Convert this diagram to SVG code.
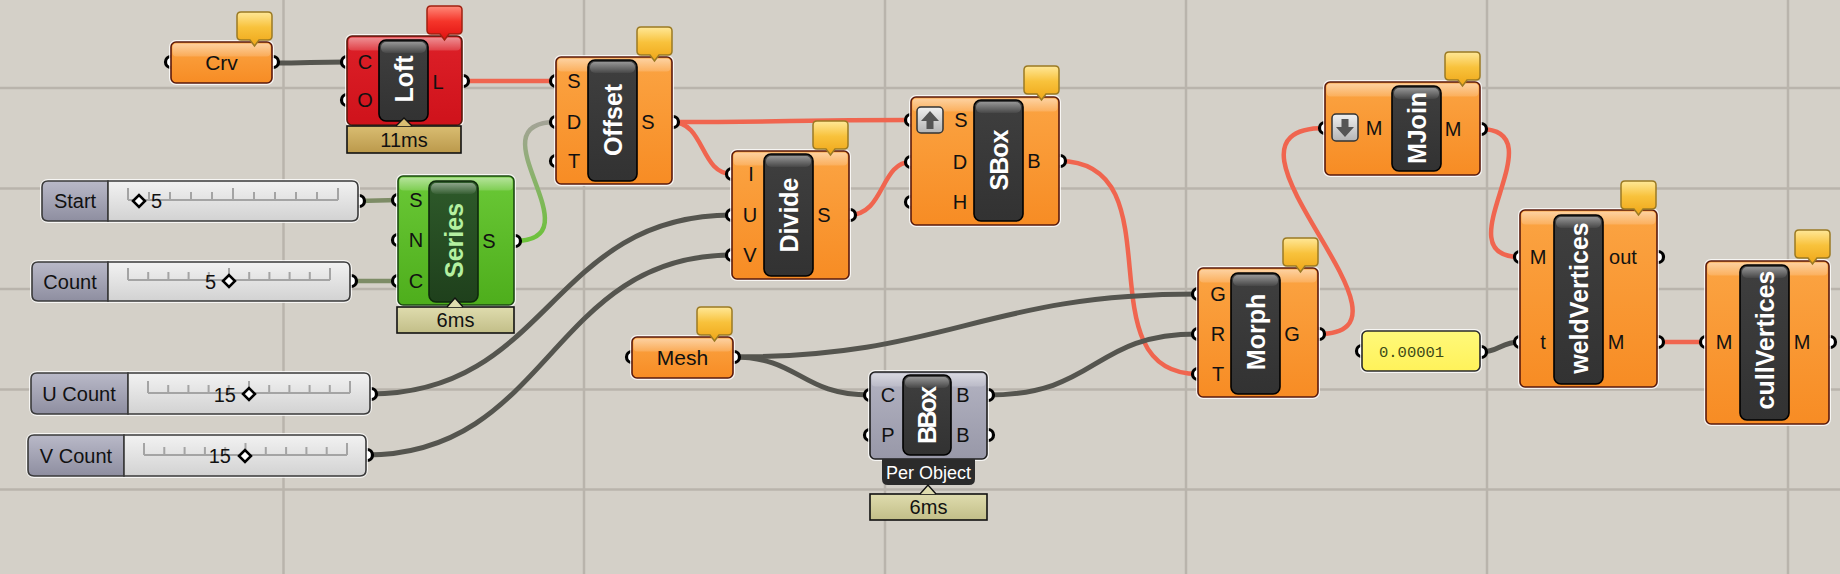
<svg xmlns="http://www.w3.org/2000/svg" width="1840" height="574" viewBox="0 0 1840 574">
<defs>
<linearGradient id="gOr" x1="0" y1="0" x2="0" y2="1"><stop offset="0" stop-color="#fba443"/><stop offset="1" stop-color="#f78c24"/></linearGradient>
<linearGradient id="gRd" x1="0" y1="0" x2="0" y2="1"><stop offset="0" stop-color="#dd2028"/><stop offset="1" stop-color="#cf121b"/></linearGradient>
<linearGradient id="gGn" x1="0" y1="0" x2="0" y2="1"><stop offset="0" stop-color="#6ac836"/><stop offset="1" stop-color="#4eae1c"/></linearGradient>
<linearGradient id="gGy" x1="0" y1="0" x2="0" y2="1"><stop offset="0" stop-color="#b3b3c2"/><stop offset="1" stop-color="#9898a8"/></linearGradient>
<linearGradient id="gBand" x1="0" y1="0" x2="0" y2="1"><stop offset="0" stop-color="#fff" stop-opacity=".5"/><stop offset="1" stop-color="#fff" stop-opacity=".15"/></linearGradient>
<linearGradient id="gPill" x1="0" y1="0" x2="0" y2="1"><stop offset="0" stop-color="#3f3f3f"/><stop offset="1" stop-color="#323232"/></linearGradient>
<linearGradient id="gPillG" x1="0" y1="0" x2="0" y2="1"><stop offset="0" stop-color="#2e5a2a"/><stop offset="1" stop-color="#1f401c"/></linearGradient>
<linearGradient id="gPillHi" x1="0" y1="0" x2="0" y2="1"><stop offset="0" stop-color="#fff" stop-opacity=".45"/><stop offset="1" stop-color="#fff" stop-opacity=".05"/></linearGradient>
<linearGradient id="gBal" x1="0" y1="0" x2="0" y2="1"><stop offset="0" stop-color="#ffe898"/><stop offset=".45" stop-color="#f8c23c"/><stop offset="1" stop-color="#efa618"/></linearGradient>
<linearGradient id="gBalR" x1="0" y1="0" x2="0" y2="1"><stop offset="0" stop-color="#ff8a7a"/><stop offset=".45" stop-color="#f5352a"/><stop offset="1" stop-color="#e01010"/></linearGradient>
<linearGradient id="gSlL" x1="0" y1="0" x2="0" y2="1"><stop offset="0" stop-color="#b9b9c8"/><stop offset="1" stop-color="#8e8ea0"/></linearGradient>
<linearGradient id="gSlB" x1="0" y1="0" x2="0" y2="1"><stop offset="0" stop-color="#f2f2f2"/><stop offset="1" stop-color="#d2d2d2"/></linearGradient>
<linearGradient id="gTmG" x1="0" y1="0" x2="0" y2="1"><stop offset="0" stop-color="#d9bd72"/><stop offset="1" stop-color="#bb994b"/></linearGradient>
<linearGradient id="gTmK" x1="0" y1="0" x2="0" y2="1"><stop offset="0" stop-color="#dfdcae"/><stop offset="1" stop-color="#c2be88"/></linearGradient>
<linearGradient id="gIcon" x1="0" y1="0" x2="0" y2="1"><stop offset="0" stop-color="#f0f0f0"/><stop offset="1" stop-color="#b4b4b4"/></linearGradient>
<linearGradient id="gPanel" x1="0" y1="0" x2="0" y2="1"><stop offset="0" stop-color="#fff97a"/><stop offset="1" stop-color="#fff25a"/></linearGradient>
<linearGradient id="gWGreen" gradientUnits="userSpaceOnUse" x1="0" y1="241" x2="0" y2="122"><stop offset="0" stop-color="#6cc23a"/><stop offset="1" stop-color="#a3a396"/></linearGradient>
<path id="bal" d="M4,0 H31 Q35,0 35,4 V24 Q35,28 31,28 H22 L17.5,34 L13,28 H4 Q0,28 0,24 V4 Q0,0 4,0 Z"/>
<style>
.wr{fill:none;stroke:#f0654f;stroke-width:4.5;stroke-linecap:round}
.wg{fill:none;stroke:#55554f;stroke-width:5;stroke-linecap:round}
.wo{fill:none;stroke:#7d8c66;stroke-width:4.5}
.port{fill:#fff;stroke:#000;stroke-width:3.2}
.halo{fill:none;stroke:#fff;stroke-opacity:.8;stroke-width:4}
.edge{stroke:#5a1a0c;stroke-width:1.6}
.edgeK{stroke:#1f1f1f;stroke-width:1.6}
.band{fill:url(#gBand)}
.pill{fill:url(#gPill);stroke:#000;stroke-width:1.6}
.pillhi{fill:url(#gPillHi)}
.lbl{font-family:"Liberation Sans",Arial,sans-serif;font-size:20px;fill:#111;text-anchor:middle}
.pt{font-family:"Liberation Sans",Arial,sans-serif;font-weight:bold;font-size:25px;fill:#fff;text-anchor:middle}
.bal{fill:url(#gBal);stroke:#9b7a23;stroke-width:1.5}
.balr{fill:url(#gBalR);stroke:#a02010;stroke-width:1.5}
.grid{stroke:#b9b4ac;stroke-width:2.5}
.sl{fill:url(#gSlL);stroke:#3a3a3a;stroke-width:1.6}
.sb{fill:url(#gSlB);stroke:#3a3a3a;stroke-width:1.6}
.trk{fill:none;stroke:#a4a4a4;stroke-width:2}
.dia{fill:#fff;stroke:#000;stroke-width:2.5}
.tm{stroke:#111;stroke-width:1.6}
</style>
</defs>
<rect x="0" y="0" width="1840" height="574" fill="#d4d0c8"/>
<g id="grid">
<path class="grid" d="M283.5,0V574M584,0V574M885,0V574M1186,0V574M1487,0V574M1788,0V574M0,88H1840M0,188.5H1840M0,289H1840M0,389.5H1840M0,489.5H1840"/>
</g>
<g id="connectors">
<path class="wg" d="M272,63 C310,63 310,62 347,62"/>
<path class="wr" d="M462,81 L556,81"/>
<path fill="none" stroke="url(#gWGreen)" stroke-width="4.5" d="M514,241 C600,241 470,122 556,122"/>
<path class="wo" d="M358,201 L398,200"/>
<path class="wo" d="M350,281 L398,281"/>
<path class="wr" d="M672,122 C790,122 790,120 911,120"/>
<path class="wr" d="M672,122 C705,122 700,174 732,174"/>
<path class="wr" d="M849,215 C885,215 880,162 911,162"/>
<path class="wg" d="M370,394 C550,394 550,215 732,215"/>
<path class="wg" d="M366,455 C550,455 550,255 732,255"/>
<path class="wr" d="M1059,161 C1180,161 1080,374 1198,374"/>
<path class="wg" d="M733,357 C950,357 980,294 1198,294"/>
<path class="wg" d="M733,357 C800,357 800,395 870,395"/>
<path class="wg" d="M987,395 C1100,395 1090,334 1198,334"/>
<path class="wr" d="M1318,334 C1440,334 1190,128 1325,128"/>
<path class="wr" d="M1480,129 C1560,129 1440,257 1520,257"/>
<path class="wg" d="M1480,352 C1500,352 1500,342 1520,342"/>
<path class="wr" d="M1657,342 L1706,342"/>
</g>

<g id="slider-start">
<circle class="port" cx="359" cy="201" r="5.5"/>
<rect class="halo" x="42" y="181" width="316" height="40" rx="6"/>
<path class="sl" d="M48,181 H108 V221 H48 Q42,221 42,215 V187 Q42,181 48,181 Z"/>
<path class="sb" d="M108,181 H352 Q358,181 358,187 V215 Q358,221 352,221 H108 Z"/>
<text class="lbl" x="75" y="208">Start</text>
<path class="trk" d="M128,200H338M128,188V200M149,192V200M170,192V200M191,192V200M212,192V200M233,188V200M254,192V200M275,192V200M296,192V200M317,192V200M338,188V200"/>
<polygon class="dia" points="133,201 139,195 145,201 139,207"/>
<text class="lbl" x="151" y="208" style="text-anchor:start">5</text>
</g>
<g id="slider-count">
<circle class="port" cx="351" cy="281" r="5.5"/>
<rect class="halo" x="32" y="262" width="318" height="39" rx="6"/>
<path class="sl" d="M38,262 H108 V301 H38 Q32,301 32,295 V268 Q32,262 38,262 Z"/>
<path class="sb" d="M108,262 H344 Q350,262 350,268 V295 Q350,301 344,301 H108 Z"/>
<text class="lbl" x="70" y="289">Count</text>
<path class="trk" d="M128,280H330M128,268V280M148.2,272V280M168.4,272V280M188.6,272V280M208.8,272V280M229,268V280M249.2,272V280M269.4,272V280M289.6,272V280M309.8,272V280M330,268V280"/>
<text class="lbl" x="216" y="289" style="text-anchor:end">5</text>
<polygon class="dia" points="223,281 229,275 235,281 229,287"/>
</g>
<g id="slider-ucount">
<circle class="port" cx="371" cy="394" r="5.5"/>
<rect class="halo" x="31" y="373" width="339" height="41" rx="6"/>
<path class="sl" d="M37,373 H128 V414 H37 Q31,414 31,408 V379 Q31,373 37,373 Z"/>
<path class="sb" d="M128,373 H364 Q370,373 370,379 V408 Q370,414 364,414 H128 Z"/>
<text class="lbl" x="79" y="401">U Count</text>
<path class="trk" d="M148,393H350M148,381V393M168.2,385V393M188.4,385V393M208.6,385V393M228.8,385V393M249,381V393M269.2,385V393M289.4,385V393M309.6,385V393M329.8,385V393M350,381V393"/>
<text class="lbl" x="236" y="402" style="text-anchor:end">15</text>
<polygon class="dia" points="243,394 249,388 255,394 249,400"/>
</g>
<g id="slider-vcount">
<circle class="port" cx="367" cy="455" r="5.5"/>
<rect class="halo" x="28" y="435" width="338" height="41" rx="6"/>
<path class="sl" d="M34,435 H124 V476 H34 Q28,476 28,470 V441 Q28,435 34,435 Z"/>
<path class="sb" d="M124,435 H360 Q366,435 366,441 V470 Q366,476 360,476 H124 Z"/>
<text class="lbl" x="76" y="463">V Count</text>
<path class="trk" d="M144,455H347M144,443V455M164.3,447V455M184.6,447V455M204.9,447V455M225.2,447V455M245.5,443V455M265.8,447V455M286.1,447V455M306.4,447V455M326.7,447V455M347,443V455"/>
<text class="lbl" x="231" y="463" style="text-anchor:end">15</text>
<polygon class="dia" points="239,456 245,450 251,456 245,462"/>
</g>

<g id="node-crv">
<circle class="port" cx="171" cy="62" r="5.5"/><circle class="port" cx="273" cy="62" r="5.5"/>
<rect class="halo" x="171" y="42" width="101" height="41" rx="5"/>
<rect class="edge" fill="url(#gOr)" x="171" y="42" width="101" height="41" rx="5"/>
<rect class="band" x="172.5" y="43.5" width="98" height="13" rx="4"/>
<text class="lbl" x="221.5" y="70" style="font-size:21px">Crv</text>
<use href="#bal" class="bal" x="237" y="12"/>
</g>

<g id="node-loft">
<circle class="port" cx="347" cy="62" r="5.5"/><circle class="port" cx="347" cy="100" r="5.5"/><circle class="port" cx="463" cy="81" r="5.5"/>
<rect class="halo" x="347" y="36" width="115" height="89" rx="5"/>
<rect class="edge" fill="url(#gRd)" x="347" y="36" width="115" height="89" rx="5"/>
<rect class="band" x="348.5" y="37.5" width="112" height="13" rx="4"/>
<text class="lbl" x="365" y="69">C</text><text class="lbl" x="365" y="107">O</text><text class="lbl" x="438" y="89">L</text>
<rect class="pill" x="379" y="40" width="49" height="81" rx="7"/><rect class="pillhi" x="381" y="42" width="45" height="11" rx="5"/>
<text class="pt" transform="translate(403.5,79) rotate(-90)" dy="0.36em">Loft</text>
<rect class="tm" fill="url(#gTmG)" x="347" y="126" width="114" height="27"/>
<path d="M396,126 L404,118 L412,126" fill="#d9bd72" stroke="#111" stroke-width="1.4"/>
<text class="lbl" x="404" y="147">11ms</text>
<use href="#bal" class="balr" x="427" y="6"/>
</g>

<g id="node-series">
<circle class="port" cx="398" cy="200" r="5.5"/><circle class="port" cx="398" cy="240" r="5.5"/><circle class="port" cx="398" cy="281" r="5.5"/><circle class="port" cx="515" cy="241" r="5.5"/>
<rect class="halo" x="398" y="176" width="116" height="129" rx="5"/>
<rect stroke="#1d4a12" stroke-width="1.6" fill="url(#gGn)" x="398" y="176" width="116" height="129" rx="5"/>
<rect class="band" x="399.5" y="177.5" width="113" height="13" rx="4"/>
<text class="lbl" x="416" y="207">S</text><text class="lbl" x="416" y="247">N</text><text class="lbl" x="416" y="288">C</text><text class="lbl" x="489" y="248">S</text>
<rect fill="url(#gPillG)" stroke="#0e2a0c" stroke-width="1.6" x="429" y="181" width="49" height="121" rx="7"/><rect class="pillhi" x="431" y="183" width="45" height="11" rx="5"/>
<text class="pt" transform="translate(453.5,240.5) rotate(-90)" dy="0.36em" style="fill:#b4f0a0">Series</text>
<rect class="tm" fill="url(#gTmK)" x="397" y="307" width="117" height="26"/>
<path d="M447,307 L455,298 L463,307" fill="#dfdcae" stroke="#111" stroke-width="1.4"/>
<text class="lbl" x="455.5" y="327">6ms</text>
</g>

<g id="node-offset">
<circle class="port" cx="556" cy="81" r="5.5"/><circle class="port" cx="556" cy="122" r="5.5"/><circle class="port" cx="556" cy="161" r="5.5"/><circle class="port" cx="673" cy="122" r="5.5"/>
<rect class="halo" x="556" y="57" width="116" height="127" rx="5"/>
<rect class="edge" fill="url(#gOr)" x="556" y="57" width="116" height="127" rx="5"/>
<rect class="band" x="557.5" y="58.5" width="113" height="13" rx="4"/>
<text class="lbl" x="574" y="88">S</text><text class="lbl" x="574" y="129">D</text><text class="lbl" x="574" y="168">T</text><text class="lbl" x="648" y="129">S</text>
<rect class="pill" x="588" y="60" width="49" height="121" rx="7"/><rect class="pillhi" x="590" y="62" width="45" height="11" rx="5"/>
<text class="pt" transform="translate(612.5,120) rotate(-90)" dy="0.36em">Offset</text>
<use href="#bal" class="bal" x="637" y="27"/>
</g>

<g id="node-divide">
<circle class="port" cx="732" cy="174" r="5.5"/><circle class="port" cx="732" cy="215" r="5.5"/><circle class="port" cx="732" cy="255" r="5.5"/><circle class="port" cx="850" cy="215" r="5.5"/>
<rect class="halo" x="732" y="151" width="117" height="128" rx="5"/>
<rect class="edge" fill="url(#gOr)" x="732" y="151" width="117" height="128" rx="5"/>
<rect class="band" x="733.5" y="152.5" width="114" height="13" rx="4"/>
<text class="lbl" x="751" y="181">I</text><text class="lbl" x="750" y="222">U</text><text class="lbl" x="750" y="262">V</text><text class="lbl" x="824" y="222">S</text>
<rect class="pill" x="764" y="154" width="49" height="122" rx="7"/><rect class="pillhi" x="766" y="156" width="45" height="11" rx="5"/>
<text class="pt" transform="translate(788.5,215) rotate(-90)" dy="0.36em">Divide</text>
<use href="#bal" class="bal" x="813" y="121"/>
</g>

<g id="node-sbox">
<circle class="port" cx="911" cy="120" r="5.5"/><circle class="port" cx="911" cy="162" r="5.5"/><circle class="port" cx="911" cy="202" r="5.5"/><circle class="port" cx="1060" cy="161" r="5.5"/>
<rect class="halo" x="911" y="97" width="148" height="128" rx="5"/>
<rect class="edge" fill="url(#gOr)" x="911" y="97" width="148" height="128" rx="5"/>
<rect class="band" x="912.5" y="98.5" width="145" height="13" rx="4"/>
<rect fill="url(#gIcon)" stroke="#333" stroke-width="1.5" x="917" y="107" width="26" height="26" rx="4"/>
<path d="M930,111 L939,121 H933.5 V129 H926.5 V121 H921 Z" fill="#555"/>
<text class="lbl" x="961" y="127">S</text><text class="lbl" x="960" y="169">D</text><text class="lbl" x="960" y="209">H</text><text class="lbl" x="1034" y="168">B</text>
<rect class="pill" x="974" y="100" width="49" height="121" rx="7"/><rect class="pillhi" x="976" y="102" width="45" height="11" rx="5"/>
<text class="pt" transform="translate(998.5,160) rotate(-90)" dy="0.36em" textLength="61">SBox</text>
<use href="#bal" class="bal" x="1024" y="66"/>
</g>

<g id="node-mesh">
<circle class="port" cx="632" cy="357" r="5.5"/><circle class="port" cx="734" cy="357" r="5.5"/>
<rect class="halo" x="632" y="337" width="101" height="41" rx="5"/>
<rect class="edge" fill="url(#gOr)" x="632" y="337" width="101" height="41" rx="5"/>
<rect class="band" x="633.5" y="338.5" width="98" height="13" rx="4"/>
<text class="lbl" x="682.5" y="365" style="font-size:21px">Mesh</text>
<use href="#bal" class="bal" x="697" y="307"/>
</g>

<g id="node-bbox">
<circle class="port" cx="870" cy="395" r="5.5"/><circle class="port" cx="870" cy="435" r="5.5"/><circle class="port" cx="988" cy="395" r="5.5"/><circle class="port" cx="988" cy="435" r="5.5"/>
<rect class="halo" x="870" y="372" width="117" height="87" rx="5"/>
<rect class="edgeK" fill="url(#gGy)" x="870" y="372" width="117" height="87" rx="5"/>
<rect class="band" x="871.5" y="373.5" width="114" height="13" rx="4"/>
<text class="lbl" x="888" y="402">C</text><text class="lbl" x="888" y="442">P</text><text class="lbl" x="963" y="402">B</text><text class="lbl" x="963" y="442">B</text>
<rect class="pill" x="903" y="375" width="48" height="80" rx="7"/><rect class="pillhi" x="905" y="377" width="44" height="11" rx="5"/>
<text class="pt" transform="translate(927,415) rotate(-90)" dy="0.36em" textLength="58">BBox</text>
<path d="M882,459 H975 V479 Q975,485 969,485 H888 Q882,485 882,479 Z" fill="#2b2b2b"/>
<text class="lbl" x="928.5" y="479" style="fill:#fff;font-size:18px">Per Object</text>
<rect class="tm" fill="url(#gTmK)" x="870" y="494" width="117" height="26"/>
<path d="M920,494 L928,485 L936,494" fill="#dfdcae" stroke="#111" stroke-width="1.4"/>
<text class="lbl" x="928.5" y="514">6ms</text>
</g>

<g id="node-morph">
<circle class="port" cx="1198" cy="294" r="5.5"/><circle class="port" cx="1198" cy="334" r="5.5"/><circle class="port" cx="1198" cy="374" r="5.5"/><circle class="port" cx="1319" cy="334" r="5.5"/>
<rect class="halo" x="1198" y="268" width="120" height="129" rx="5"/>
<rect class="edge" fill="url(#gOr)" x="1198" y="268" width="120" height="129" rx="5"/>
<rect class="band" x="1199.5" y="269.5" width="117" height="13" rx="4"/>
<text class="lbl" x="1218" y="301">G</text><text class="lbl" x="1218" y="341">R</text><text class="lbl" x="1218" y="381">T</text><text class="lbl" x="1292" y="341">G</text>
<rect class="pill" x="1231" y="273" width="49" height="121" rx="7"/><rect class="pillhi" x="1233" y="275" width="45" height="11" rx="5"/>
<text class="pt" transform="translate(1255.5,332) rotate(-90)" dy="0.36em">Morph</text>
<use href="#bal" class="bal" x="1283" y="238"/>
</g>

<g id="node-mjoin">
<circle class="port" cx="1325" cy="128" r="5.5"/><circle class="port" cx="1481" cy="129" r="5.5"/>
<rect class="halo" x="1325" y="82" width="155" height="93" rx="5"/>
<rect class="edge" fill="url(#gOr)" x="1325" y="82" width="155" height="93" rx="5"/>
<rect class="band" x="1326.5" y="83.5" width="152" height="13" rx="4"/>
<rect fill="url(#gIcon)" stroke="#333" stroke-width="1.5" x="1332" y="114" width="26" height="27" rx="4"/>
<path d="M1345,137 L1354,127 H1348.5 V119 H1341.5 V127 H1336 Z" fill="#555"/>
<text class="lbl" x="1374" y="135">M</text><text class="lbl" x="1453" y="136">M</text>
<rect class="pill" x="1392" y="86" width="49" height="85" rx="7"/><rect class="pillhi" x="1394" y="88" width="45" height="11" rx="5"/>
<text class="pt" transform="translate(1416.5,128) rotate(-90)" dy="0.36em">MJoin</text>
<use href="#bal" class="bal" x="1445" y="52"/>
</g>

<g id="node-panel">
<circle class="port" cx="1362" cy="351" r="5.5"/><circle class="port" cx="1481" cy="352" r="5.5"/>
<rect class="halo" x="1362" y="331" width="118" height="40" rx="5"/>
<rect fill="url(#gPanel)" stroke="#2a2a2a" stroke-width="1.6" x="1362" y="331" width="118" height="40" rx="5"/>
<text x="1379" y="357" style="font-family:'Liberation Mono','DejaVu Sans Mono',monospace;font-size:15.5px;fill:#3d4a17">0.00001</text>
</g>

<g id="node-weldvertices">
<circle class="port" cx="1520" cy="257" r="5.5"/><circle class="port" cx="1520" cy="342" r="5.5"/><circle class="port" cx="1658" cy="257" r="5.5"/><circle class="port" cx="1658" cy="342" r="5.5"/>
<rect class="halo" x="1520" y="210" width="137" height="177" rx="5"/>
<rect class="edge" fill="url(#gOr)" x="1520" y="210" width="137" height="177" rx="5"/>
<rect class="band" x="1521.5" y="211.5" width="134" height="13" rx="4"/>
<text class="lbl" x="1538" y="264">M</text><text class="lbl" x="1543" y="349">t</text><text class="lbl" x="1623" y="264">out</text><text class="lbl" x="1616" y="349">M</text>
<rect class="pill" x="1554" y="215" width="49" height="169" rx="7"/><rect class="pillhi" x="1556" y="217" width="45" height="11" rx="5"/>
<text class="pt" transform="translate(1578.5,298) rotate(-90)" dy="0.36em">weldVertices</text>
<use href="#bal" class="bal" x="1621" y="181"/>
</g>

<g id="node-cullvertices">
<circle class="port" cx="1706" cy="342" r="5.5"/><circle class="port" cx="1830" cy="342" r="5.5"/>
<rect class="halo" x="1706" y="261" width="123" height="163" rx="5"/>
<rect class="edge" fill="url(#gOr)" x="1706" y="261" width="123" height="163" rx="5"/>
<rect class="band" x="1707.5" y="262.5" width="120" height="13" rx="4"/>
<text class="lbl" x="1724" y="349">M</text><text class="lbl" x="1802" y="349">M</text>
<rect class="pill" x="1740" y="265" width="49" height="155" rx="7"/><rect class="pillhi" x="1742" y="267" width="45" height="11" rx="5"/>
<text class="pt" transform="translate(1764.5,340) rotate(-90)" dy="0.36em">cullVertices</text>
<use href="#bal" class="bal" x="1795" y="230"/>
</g>
</svg>
